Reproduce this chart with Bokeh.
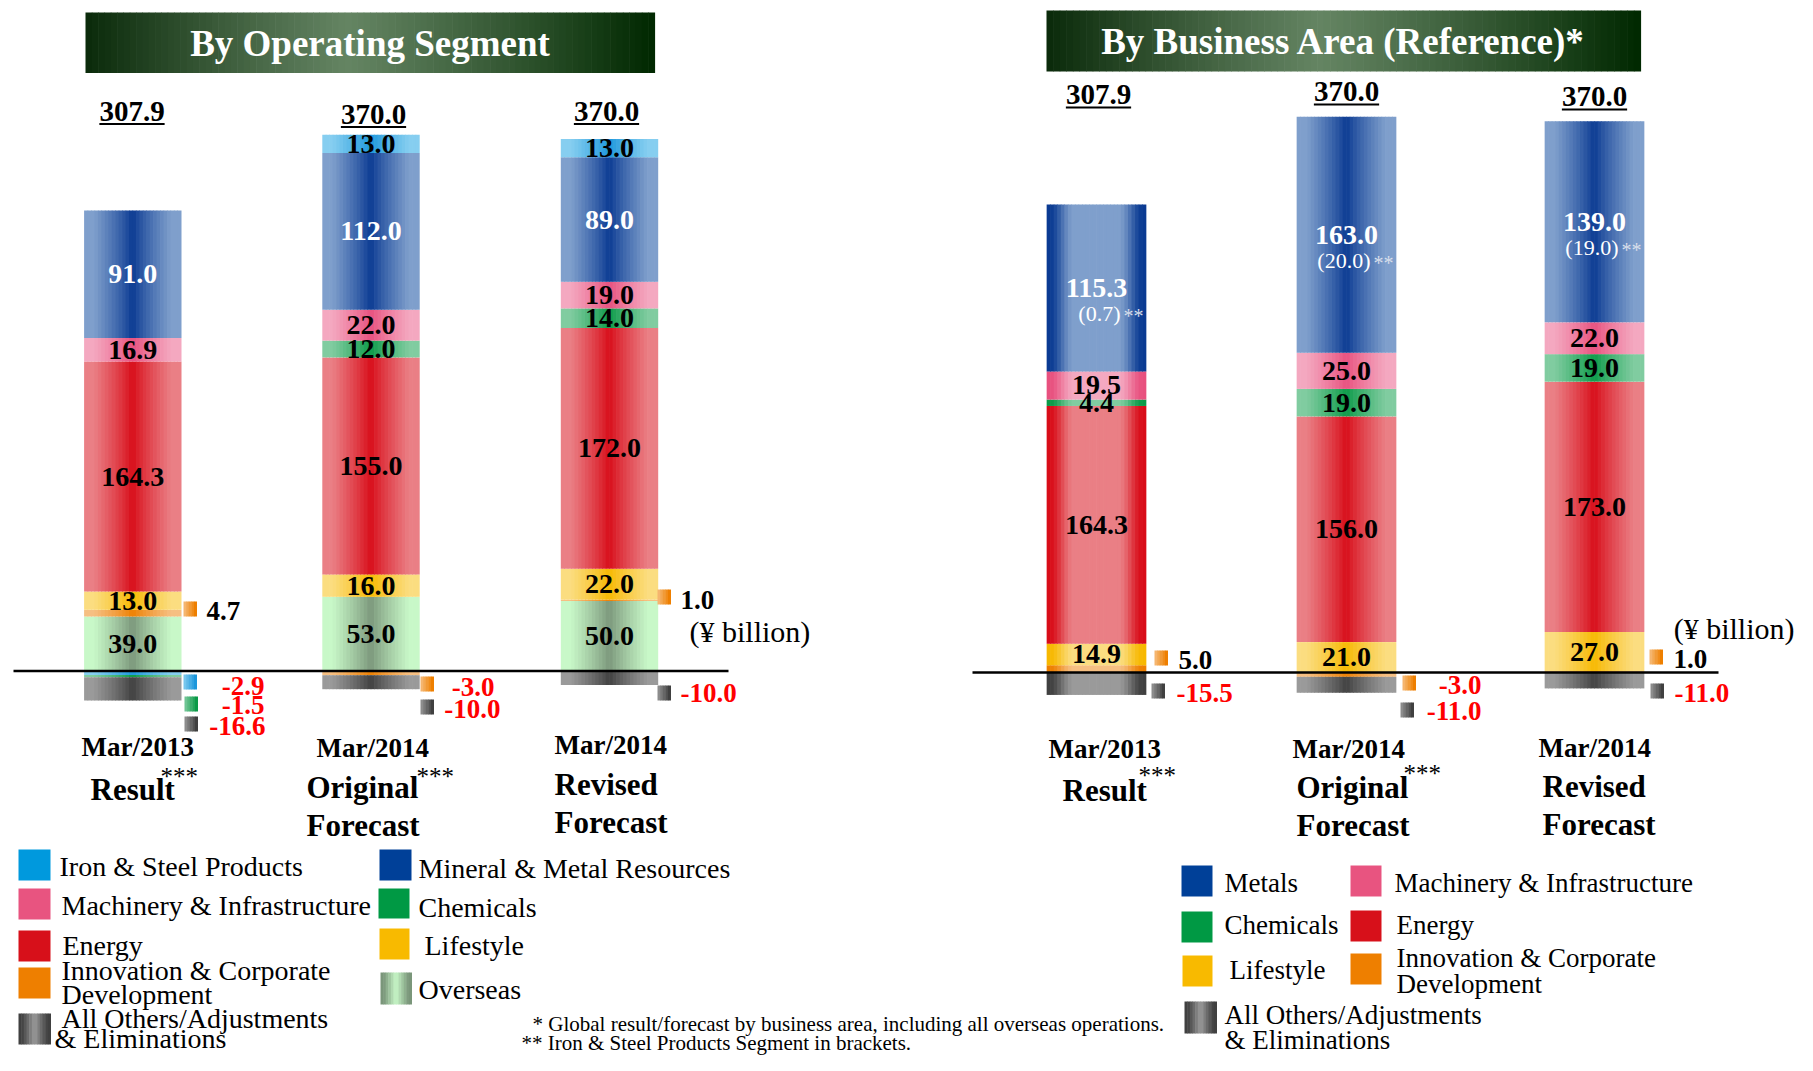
import numpy as np
from bokeh.plotting import figure
from bokeh.models import Range1d, ColumnDataSource
from bokeh.core.properties import value
from bokeh.embed import file_html
from bokeh.resources import INLINE

# ---------------- data (¥ billion) ----------------
titles = ["By Operating Segment", "By Business Area (Reference)*"]
period_line1 = ["Mar/2013", "Mar/2014", "Mar/2014"]
period_line2 = [["Result"], ["Original", "Forecast"], ["Revised", "Forecast"]]
period_star = [True, True, False]
unit_label = "(¥ billion)"

# By Operating Segment
op_overseas   = [39.0, 53.0, 50.0]
op_innovation = [4.7, -3.0, 1.0]
op_lifestyle  = [13.0, 16.0, 22.0]
op_energy     = [164.3, 155.0, 172.0]
op_chemicals  = [-1.5, 12.0, 14.0]
op_machinery  = [16.9, 22.0, 19.0]
op_mineral    = [91.0, 112.0, 89.0]
op_iron       = [-2.9, 13.0, 13.0]
op_others     = [-16.6, -10.0, -10.0]

# By Business Area (Reference)
ba_innovation = [5.0, -3.0, 1.0]
ba_lifestyle  = [14.9, 21.0, 27.0]
ba_energy     = [164.3, 156.0, 173.0]
ba_chemicals  = [4.4, 19.0, 19.0]
ba_machinery  = [19.5, 25.0, 22.0]
ba_metals     = [115.3, 163.0, 139.0]
ba_metals_iron = [0.7, 20.0, 19.0]   # Iron & Steel Products Segment in brackets
ba_others     = [-15.5, -11.0, -11.0]

op_legend_labels = {
    "iron": ["Iron & Steel Products"],
    "machinery": ["Machinery & Infrastructure"],
    "energy": ["Energy"],
    "innovation": ["Innovation & Corporate", "Development"],
    "others": ["All Others/Adjustments", "& Eliminations"],
    "mineral": ["Mineral & Metal Resources"],
    "chemicals": ["Chemicals"],
    "lifestyle": ["Lifestyle"],
    "overseas": ["Overseas"],
}
ba_legend_labels = {
    "mineral": ["Metals"],
    "machinery": ["Machinery & Infrastructure"],
    "chemicals": ["Chemicals"],
    "energy": ["Energy"],
    "lifestyle": ["Lifestyle"],
    "innovation": ["Innovation & Corporate", "Development"],
    "others": ["All Others/Adjustments", "& Eliminations"],
}
footnotes = ["* Global result/forecast by business area, including all overseas operations.",
             "** Iron & Steel Products Segment in brackets."]

# ---------------- styles ----------------
FONT = "Liberation Serif"
# key: (gradient centre colour, gradient edge colour, legend colour)
COL = {
    "iron":       ("#1c97dc", "#86cef0", "#0099dd"),
    "mineral":    ("#0a3a92", "#7f9fcc", "#004098"),
    "machinery":  ("#e8507e", "#f4a8c0", "#e85480"),
    "chemicals":  ("#0b9a48", "#80cca0", "#009944"),
    "energy":     ("#d80c18", "#ea7f85", "#d7101a"),
    "lifestyle":  ("#f7b800", "#fbdd80", "#f8ba00"),
    "innovation": ("#ee7f00", "#f6bf82", "#ee7f00"),
    "overseas":   ("#7a967a", "#c8f8c8", None),
    "others":     ("#404040", "#9a9a9a", None),
}

# ---------------- layout (reference pixel coordinates) ----------------
W, H = 1797, 1055
X0, Y0 = 0, 0
L_ZERO, L_PPU = 670.5, 1.40
R_ZERO, R_PPU = 672.0, 1.447
L_X = [132.3, 370.5, 609.0]
R_X = [1096.0, 1346.0, 1594.0]
L_BW, R_BW = 96.7, 99.0

p = figure(width=W, height=H, output_backend="svg", toolbar_location=None,
           x_axis_type=None, y_axis_type=None, title=None,
           x_range=Range1d(X0, X0 + W),
           y_range=Range1d((L_ZERO - (Y0 + H)) / L_PPU, (L_ZERO - Y0) / L_PPU),
           min_border=0, min_border_left=0, min_border_right=0,
           min_border_top=0, min_border_bottom=0)
p.extra_y_ranges = {
    "right": Range1d((R_ZERO - (Y0 + H)) / R_PPU, (R_ZERO - Y0) / R_PPU),
    "px": Range1d(Y0 + H, Y0),
}
p.outline_line_color = None
p.grid.visible = False
p.background_fill_color = "white"
p.border_fill_color = "white"


def hex_rgb(h):
    h = h.lstrip("#")
    return np.array([int(h[i:i + 2], 16) for i in (0, 2, 4)], float)


def to_hex(c):
    c = np.clip(np.round(c), 0, 255).astype(int)
    return "#%02x%02x%02x" % tuple(c)


def mix(a, b, t):
    return to_hex(hex_rgb(a) * (1 - t) + hex_rgb(b) * t)


NS = 28
_fr = (np.arange(NS) + 0.5) / NS
_d = np.abs(_fr - 0.5) * 2
_T = np.clip(_d / 0.8, 0, 1) ** 0.85                  # dark centre, light edges
_s = np.clip((_d - 0.45) / 0.5, 0, 1)
_TR = 1 - _s * _s * (3 - 2 * _s)                       # light centre, dark edges


def txt(x, y, s, size, bold=False, color="black", align="left", rng="px"):
    """y is the vertical middle of the capitals/digits"""
    style = "bold" if bold else "normal"
    p.text(x=[x], y=[y], text=[s], y_range_name=rng,
           text_font=value(FONT), text_font_size=f"{size}px",
           text_font_style=style, text_color=color,
           text_align=align, text_baseline="middle")


def stack_bar(b, pos_series, neg_series):
    segs = []
    acc = 0.0
    for key, vals in pos_series:
        v = vals[b]
        if v > 0:
            segs.append((key, acc, acc + v, v))
            acc += v
    acc = 0.0
    for key, vals in neg_series:
        v = vals[b]
        if v < 0:
            segs.append((key, acc + v, acc, v))
            acc += v
    return segs


def draw_panel(xs, bw, pos_series, neg_series, rng, reverse_flags, label_keys):
    store = {"x": [], "w": [], "bottom": [], "top": [], "color": []}
    labels = {"x": [], "y": [], "text": [], "color": []}
    all_segs = []
    for b, xc in enumerate(xs):
        segs = stack_bar(b, pos_series, neg_series)
        all_segs.append(segs)
        sw = bw / NS
        prof = _TR if reverse_flags[b] else _T
        for key, bot, top, v in segs:
            c_center, c_edge = COL[key][0], COL[key][1]
            for i in range(NS):
                store["x"].append(xc - bw / 2 + (i + 0.5) * sw)
                store["w"].append(sw + 0.7)
                store["bottom"].append(bot)
                store["top"].append(top)
                store["color"].append(mix(c_center, c_edge, prof[i]))
            if key in label_keys and v > 0:
                labels["x"].append(xc)
                labels["y"].append((bot + top) / 2)
                labels["text"].append(f"{v:.1f}")
                labels["color"].append("white" if key == "mineral" else "black")
    p.vbar(x="x", width="w", bottom="bottom", top="top", fill_color="color",
           line_color=None, source=ColumnDataSource(store), y_range_name=rng)
    p.text(x="x", y="y", text="text", text_color="color", source=ColumnDataSource(labels),
           y_range_name=rng, text_font=value(FONT), text_font_size="28px",
           text_font_style="bold", text_align="center", text_baseline="middle")
    return all_segs


# ---------------- title boxes ----------------
def title_box(x0, x1, y0, y1, text, tx, ty):
    n = 90
    qs = {"l": [], "r": [], "t": [], "b": [], "c": []}
    for i in range(n):
        f = (i + 0.5) / n
        cpos = 0.46
        if f < cpos:
            d = (cpos - f) / cpos
            c = mix("#648462", "#0a2a0a", d ** 1.1)
        else:
            d = (f - cpos) / (1 - cpos)
            c = mix("#648462", "#002800", d ** 1.1)
        qs["l"].append(x0 + (x1 - x0) * i / n)
        qs["r"].append(x0 + (x1 - x0) * (i + 1) / n + 0.6)
        qs["t"].append(y0)
        qs["b"].append(y1)
        qs["c"].append(c)
    p.quad(left="l", right="r", top="t", bottom="b", fill_color="c", line_color=None,
           source=ColumnDataSource(qs), y_range_name="px")
    txt(tx, ty, text, 37, bold=True, color="white", align="center")


title_box(85, 654, 12, 72.5, titles[0], 369.5, 42.5)
title_box(1046, 1640, 10, 71, titles[1], 1343, 40.5)

# ---------------- left panel ----------------
op_pos = [("overseas", op_overseas), ("innovation", op_innovation), ("lifestyle", op_lifestyle),
          ("energy", op_energy), ("chemicals", op_chemicals), ("machinery", op_machinery),
          ("mineral", op_mineral), ("iron", op_iron)]
op_neg = [("innovation", op_innovation), ("iron", op_iron), ("chemicals", op_chemicals),
          ("others", op_others)]
op_series_all = op_pos + [("others", op_others)]
draw_panel(L_X, L_BW, op_pos, op_neg, "default", [False, False, False],
           {"overseas", "lifestyle", "energy", "chemicals", "machinery", "mineral", "iron"})

# ---------------- right panel ----------------
ba_pos = [("innovation", ba_innovation), ("lifestyle", ba_lifestyle), ("energy", ba_energy),
          ("chemicals", ba_chemicals), ("machinery", ba_machinery), ("mineral", ba_metals)]
ba_neg = [("innovation", ba_innovation), ("others", ba_others)]
ba_series_all = ba_pos + [("others", ba_others)]
r_segs = draw_panel(R_X, R_BW, ba_pos, ba_neg, "right", [True, False, False],
                    {"lifestyle", "energy", "chemicals", "machinery", "mineral"})

# bracketed Iron & Steel part of Metals
for b, xc in enumerate(R_X):
    for key, bot, top, v in r_segs[b]:
        if key == "mineral":
            ymid = (bot + top) / 2 - 26 / R_PPU
            txt(xc + 24, ymid, f"({ba_metals_iron[b]:.1f})", 22, color="white",
                align="right", rng="right")
            txt(xc + 27, ymid - 2 / R_PPU, "**", 20, color="#d8deea", align="left",
                rng="right")

# baselines
p.segment(x0=[13], y0=[0], x1=[728], y1=[0], line_color="black", line_width=2.5)
p.segment(x0=[972], y0=[0], x1=[1718], y1=[0], line_color="black", line_width=2.5,
          y_range_name="right")

# ---------------- totals ----------------
L_TOT_POS = [(131.5, 111.2, 123.5), (373.0, 114.0, 126.5), (606.0, 110.7, 123.5)]
R_TOT_POS = [(1098.0, 94.0, 107.0), (1346.0, 90.8, 104.0), (1594.0, 96.3, 109.0)]
for series_all, pos_list in ((op_series_all, L_TOT_POS), (ba_series_all, R_TOT_POS)):
    for b, (cx, ym, uy) in enumerate(pos_list):
        tot = sum(vals[b] for _, vals in series_all)
        s = f"{tot:.1f}"
        txt(cx, ym, s, 29, bold=True, align="center")
        half = 29 * (0.5 * sum(ch.isdigit() for ch in s) + 0.25 * s.count(".")) / 2
        p.segment(x0=[cx - half], y0=[uy], x1=[cx + half], y1=[uy], line_color="black",
                  line_width=2, y_range_name="px")

# ---------------- side labels (small segments) ----------------
MW, MH = 13, 15
L_SIDE = [
    [(183, 601, 206, 610.5, "left"), (183, 674, 264, 685, "right"),
     (184, 696, 264, 704.5, "right"), (184, 716, 265, 725, "right")],
    [(420, 676, 494, 686, "right"), (420, 699, 500, 708.5, "right")],
    [(657, 589, 680, 599, "left"), (657, 685, 680, 692.5, "left")],
]
R_SIDE = [
    [(1154, 650, 1178, 659, "left"), (1151, 683, 1176, 692.5, "left")],
    [(1402, 675, 1481, 684.5, "right"), (1400, 702, 1481, 710.5, "right")],
    [(1649, 649, 1673, 658.5, "left"), (1650, 683, 1674, 692.5, "left")],
]


def marker(x, y, key, w=MW, h=MH, n=5):
    c_center, c_edge = COL[key][0], COL[key][1]
    for i in range(n):
        t = 1 - i / (n - 1)
        c = mix(c_center, c_edge, t * 0.85)
        p.quad(left=[x + w * i / n], right=[x + w * (i + 1) / n + 0.5], top=[y], bottom=[y + h],
               fill_color=c, line_color=None, y_range_name="px")


op_vals = dict(op_series_all)
ba_vals = dict(ba_series_all)
for b in range(3):
    keys = ["innovation"] + [k for k in ("iron", "chemicals") if op_vals[k][b] < 0] + ["others"]
    for k, (mx, my, tx, ty, al) in zip(keys, L_SIDE[b]):
        v = op_vals[k][b]
        marker(mx, my, k)
        txt(tx, ty, f"{v:.1f}", 27, bold=True, color="red" if v < 0 else "black", align=al)
    keys = ["innovation", "others"]
    for k, (mx, my, tx, ty, al) in zip(keys, R_SIDE[b]):
        v = ba_vals[k][b]
        marker(mx, my, k)
        txt(tx, ty, f"{v:.1f}", 27, bold=True, color="red" if v < 0 else "black", align=al)

txt(689, 631, unit_label, 30)
txt(1794, 628, unit_label, 30, align="right")

# ---------------- category labels (x left, y middle) ----------------
L_CAT = [
    [(81, 746), (90, 789), (160, 776)],
    [(316, 747.5), (306, 786.5), (306, 825), (416, 776)],
    [(554, 744), (554, 784), (554, 822)],
]
R_CAT = [
    [(1048, 748.5), (1062, 790), (1138, 775)],
    [(1292, 748.5), (1296, 786.5), (1296, 824.5), (1403, 773)],
    [(1538, 747.5), (1542, 786), (1542, 824)],
]
for cats in (L_CAT, R_CAT):
    for b in range(3):
        pos = cats[b]
        txt(pos[0][0], pos[0][1], period_line1[b], 27, bold=True)
        for j, line in enumerate(period_line2[b]):
            txt(pos[1 + j][0], pos[1 + j][1], line, 31, bold=True)
        if period_star[b]:
            sx, sy = pos[-1]
            txt(sx, sy, "***", 25)


# ---------------- legends ----------------
def legend_item(key, labels, sx, sy, sw, sh, tx, mids, size, gradient=False):
    if gradient:
        n = 12
        c_center, c_edge = COL[key][0], COL[key][1]
        for i in range(n):
            f = (i + 0.5) / n
            t = 1 - min(1, abs(f - 0.5) * 2 / 0.8)
            p.quad(left=[sx + sw * i / n], right=[sx + sw * (i + 1) / n + 0.5], top=[sy],
                   bottom=[sy + sh], fill_color=mix(c_center, c_edge, t), line_color=None,
                   y_range_name="px")
    else:
        p.quad(left=[sx], right=[sx + sw], top=[sy], bottom=[sy + sh], fill_color=COL[key][2],
               line_color=None, y_range_name="px")
    for line, (lx, ly) in zip(labels, zip(tx, mids)):
        txt(lx, ly, line, size)


L_LEG = {
    "iron":       (18, 849, 32, 31, [59], [865.5]),
    "machinery":  (18, 888, 32, 31, [61], [904.5]),
    "energy":     (18, 930, 32, 31, [62], [945]),
    "innovation": (18, 967, 32, 31, [61, 61], [970, 994]),
    "others":     (18, 1013, 32, 31, [61, 54], [1018, 1038]),
    "mineral":    (379, 849, 32, 31, [418], [867.5]),
    "chemicals":  (378, 888, 31, 30, [418], [906.5]),
    "lifestyle":  (379, 928, 30, 31, [424], [944.5]),
    "overseas":   (380, 972, 31, 32, [418], [989]),
}
for key, (sx, sy, sw, sh, tx, mids) in L_LEG.items():
    legend_item(key, op_legend_labels[key], sx, sy, sw, sh, tx, mids, 28,
                gradient=key in ("overseas", "others"))

R_LEG = {
    "mineral":    (1181, 865, 31, 31, [1224], [882]),
    "machinery":  (1350, 865, 31, 31, [1394], [882]),
    "chemicals":  (1181, 911, 31, 31, [1224], [924]),
    "energy":     (1350, 910, 31, 31, [1396], [924]),
    "lifestyle":  (1182, 955, 30, 31, [1229], [969]),
    "innovation": (1350, 953, 31, 31, [1396, 1396], [957, 983]),
    "others":     (1184, 1001, 32, 32, [1224, 1224], [1014, 1039]),
}
for key, (sx, sy, sw, sh, tx, mids) in R_LEG.items():
    legend_item(key, ba_legend_labels[key], sx, sy, sw, sh, tx, mids, 27,
                gradient=key == "others")

# ---------------- footnotes ----------------
txt(532, 1023, footnotes[0], 21)
txt(521, 1042, footnotes[1], 21)

open("out.html", "w").write(file_html(p, INLINE))
